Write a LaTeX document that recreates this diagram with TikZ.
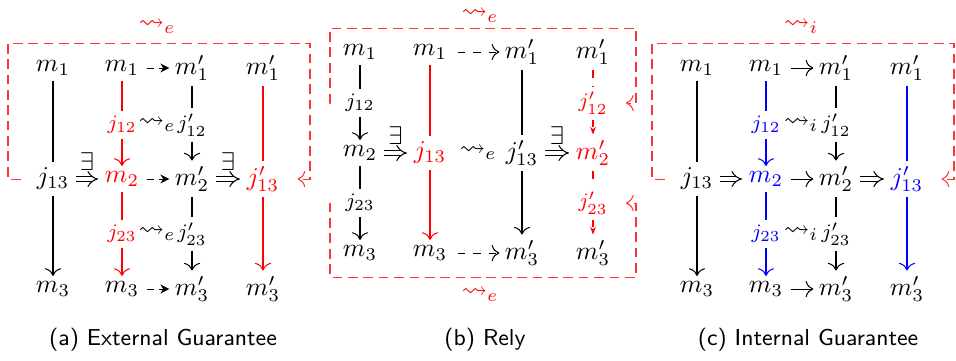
\documentclass[tikz,border=0pt]{standalone}
\usepackage{amsmath, amssymb}
\usepackage{tikz}
\usetikzlibrary{arrows.meta}

\begin{document}
\begin{tikzpicture}[
    x=0.39pt, y=-0.39pt,
    every node/.style={inner sep=2pt},
    sm/.style={font=\footnotesize, inner sep=2pt},
    arr/.style={-{To[length=3pt]}},
    sdarr/.style={dash pattern=on 2.5pt off 2pt, -{Stealth[length=3.5pt, width=3.5pt]}, shorten <=1pt},
    ldarr/.style={dash pattern=on 3pt off 3pt, -{To[length=3pt]}, shorten <=2pt},
    rdash/.style={red, dash pattern=on 3pt off 3pt},
    imp/.style={double, double distance=1.8pt, -{Implies}, shorten <=0.5pt, shorten >=0.5pt},
    loopb/.style={red!80, dash pattern=on 3.8pt off 2.2pt, -{To[length=3pt]}, shorten <=4pt, shorten >=5pt},
    captext/.style={font=\sffamily\small}
]
\useasboundingbox (0,0) rectangle (956,360);

% (a) external guarantee
\node (a-m1)  at (53,68)  {$m_1$};
\node (a-m1b) at (122,68) {$m_1$};
\node (a-m1p) at (192,68) {$m_1'$};
\node (a-m1q) at (263,68) {$m_1'$};
\node[sm, red] (a-j12)  at (122,125) {$j_{12}$};
\node (a-sq12)          at (157,125) {$\rightsquigarrow_e$};
\node[sm] (a-j12p)      at (192,125) {$j_{12}'$};
\node (a-j13)           at (53,179)  {$j_{13}$};
\node[red] (a-m2)       at (122,179) {$m_2$};
\node (a-m2p)           at (192,179) {$m_2'$};
\node[red] (a-j13p)     at (263,179) {$j_{13}'$};
\node[sm, red] (a-j23)  at (122,234) {$j_{23}$};
\node (a-sq23)          at (157,234) {$\rightsquigarrow_e$};
\node[sm] (a-j23p)      at (192,234) {$j_{23}'$};
\node (a-m3)  at (53,289)  {$m_3$};
\node (a-m3b) at (122,289) {$m_3$};
\node (a-m3p) at (192,289) {$m_3'$};
\node (a-m3q) at (263,289) {$m_3'$};

\draw (a-m1) -- (a-j13);
\draw[arr] (a-j13) -- (a-m3);
\draw[red] (a-m1b) -- (a-j12);
\draw[arr, red] (a-j12) -- (a-m2);
\draw[red] (a-m2) -- (a-j23);
\draw[arr, red] (a-j23) -- (a-m3b);
\draw (a-m1p) -- (a-j12p);
\draw[arr] (a-j12p) -- (a-m2p);
\draw (a-m2p) -- (a-j23p);
\draw[arr] (a-j23p) -- (a-m3p);
\draw[red] (a-m1q) -- (a-j13p);
\draw[arr, red] (a-j13p) -- (a-m3q);
\draw[sdarr] (a-m1b) -- (a-m1p);
\draw[sdarr] (a-m2) -- (a-m2p);
\draw[sdarr] (a-m3b) -- (a-m3p);
\draw[imp] (a-j13) -- node[above, yshift=1pt]{$\exists$} (a-m2);
\draw[imp] (a-m2p) -- node[above, yshift=1pt]{$\exists$} (a-j13p);

\coordinate (a-bl) at (8,179);
\coordinate (a-tr) at (310,43);
\draw[loopb] (a-j13) -- (a-bl) |- (a-tr) |- (a-j13p);
\node[red] (a-rel) at (157,27) {$\rightsquigarrow_e$};
\node[captext] (a-cap) at (163,340) {(a) External Guarantee};

% (b) rely
\node (b-m1)  at (360,52) {$m_1$};
\node (b-m1b) at (430,52) {$m_1$};
\node (b-m1p) at (522,52) {$m_1'$};
\node (b-m1q) at (593,52) {$m_1'$};
\node[sm] (b-j12)       at (360,103) {$j_{12}$};
\node[sm, red] (b-j12p) at (593,103) {$j_{12}'$};
\node (b-m2)            at (360,153) {$m_2$};
\node[red] (b-j13)      at (430,153) {$j_{13}$};
\node (b-sq)            at (478,153) {$\rightsquigarrow_e$};
\node (b-j13p)          at (522,153) {$j_{13}'$};
\node[red] (b-m2p)      at (593,153) {$m_2'$};
\node[sm] (b-j23)       at (360,203) {$j_{23}$};
\node[sm, red] (b-j23p) at (593,203) {$j_{23}'$};
\node (b-m3)  at (360,253) {$m_3$};
\node (b-m3b) at (430,253) {$m_3$};
\node (b-m3p) at (522,253) {$m_3'$};
\node (b-m3q) at (593,253) {$m_3'$};

\draw (b-m1) -- (b-j12);
\draw[arr] (b-j12) -- (b-m2);
\draw (b-m2) -- (b-j23);
\draw[arr] (b-j23) -- (b-m3);
\draw[red] (b-m1b) -- (b-j13);
\draw[arr, red] (b-j13) -- (b-m3b);
\draw (b-m1p) -- (b-j13p);
\draw[arr] (b-j13p) -- (b-m3p);
\draw[rdash] (b-m1q) -- (b-j12p);
\draw[rdash, -{Stealth[length=3pt]}] (b-j12p) -- (b-m2p);
\draw[rdash] (b-m2p) -- (b-j23p);
\draw[rdash, -{Stealth[length=3pt]}] (b-j23p) -- (b-m3q);
\draw[ldarr] (b-m1b) -- (b-m1p);
\draw[ldarr] (b-m3b) -- (b-m3p);
\draw[imp] (b-m2) -- node[above, yshift=1pt]{$\exists$} (b-j13);
\draw[imp] (b-j13p) -- node[above, yshift=1pt]{$\exists$} (b-m2p);

\coordinate (b-tl) at (330,103);
\coordinate (b-tr) at (636,28);
\coordinate (b-bl) at (330,203);
\coordinate (b-br) at (636,277);
\draw[loopb] (b-j12) -- (b-tl) |- (b-tr) |- (b-j12p);
\draw[loopb] (b-j23) -- (b-bl) |- (b-br) |- (b-j23p);
\node[red, inner sep=0pt] (b-rel1) at (480,16)  {$\rightsquigarrow_e$};
\node[red] (b-rel2) at (480,295) {$\rightsquigarrow_e$};
\node[captext] (b-cap) at (485,340) {(b) Rely};

% (c) internal guarantee
\node (c-m1)  at (697,68) {$m_1$};
\node (c-m1b) at (766,68) {$m_1$};
\node (c-m1p) at (836,68) {$m_1'$};
\node (c-m1q) at (907,68) {$m_1'$};
\node[sm, blue] (c-j12) at (766,125) {$j_{12}$};
\node (c-sq12)          at (801,125) {$\rightsquigarrow_i$};
\node[sm] (c-j12p)      at (836,125) {$j_{12}'$};
\node (c-j13)           at (697,179) {$j_{13}$};
\node[blue] (c-m2)      at (766,179) {$m_2$};
\node (c-m2p)           at (836,179) {$m_2'$};
\node[blue] (c-j13p)    at (907,179) {$j_{13}'$};
\node[sm, blue] (c-j23) at (766,234) {$j_{23}$};
\node (c-sq23)          at (801,234) {$\rightsquigarrow_i$};
\node[sm] (c-j23p)      at (836,234) {$j_{23}'$};
\node (c-m3)  at (697,289) {$m_3$};
\node (c-m3b) at (766,289) {$m_3$};
\node (c-m3p) at (836,289) {$m_3'$};
\node (c-m3q) at (907,289) {$m_3'$};

\draw (c-m1) -- (c-j13);
\draw[arr] (c-j13) -- (c-m3);
\draw[blue] (c-m1b) -- (c-j12);
\draw[arr, blue] (c-j12) -- (c-m2);
\draw[blue] (c-m2) -- (c-j23);
\draw[arr, blue] (c-j23) -- (c-m3b);
\draw (c-m1p) -- (c-j12p);
\draw[arr] (c-j12p) -- (c-m2p);
\draw (c-m2p) -- (c-j23p);
\draw[arr] (c-j23p) -- (c-m3p);
\draw[blue] (c-m1q) -- (c-j13p);
\draw[arr, blue] (c-j13p) -- (c-m3q);
\draw[arr, shorten <=1pt] (c-m1b) -- (c-m1p);
\draw[arr, shorten <=1pt] (c-m2) -- (c-m2p);
\draw[arr, shorten <=1pt] (c-m3b) -- (c-m3p);
\draw[imp] (c-j13) -- (c-m2);
\draw[imp] (c-m2p) -- (c-j13p);

\coordinate (c-bl) at (652,179);
\coordinate (c-tr) at (954,43);
\draw[loopb] (c-j13) -- (c-bl) |- (c-tr) |- (c-j13p);
\node[red] (c-rel) at (801,27) {$\rightsquigarrow_i$};
\node[captext] (c-cap) at (808,340) {(c) Internal Guarantee};
\end{tikzpicture}
\end{document}
